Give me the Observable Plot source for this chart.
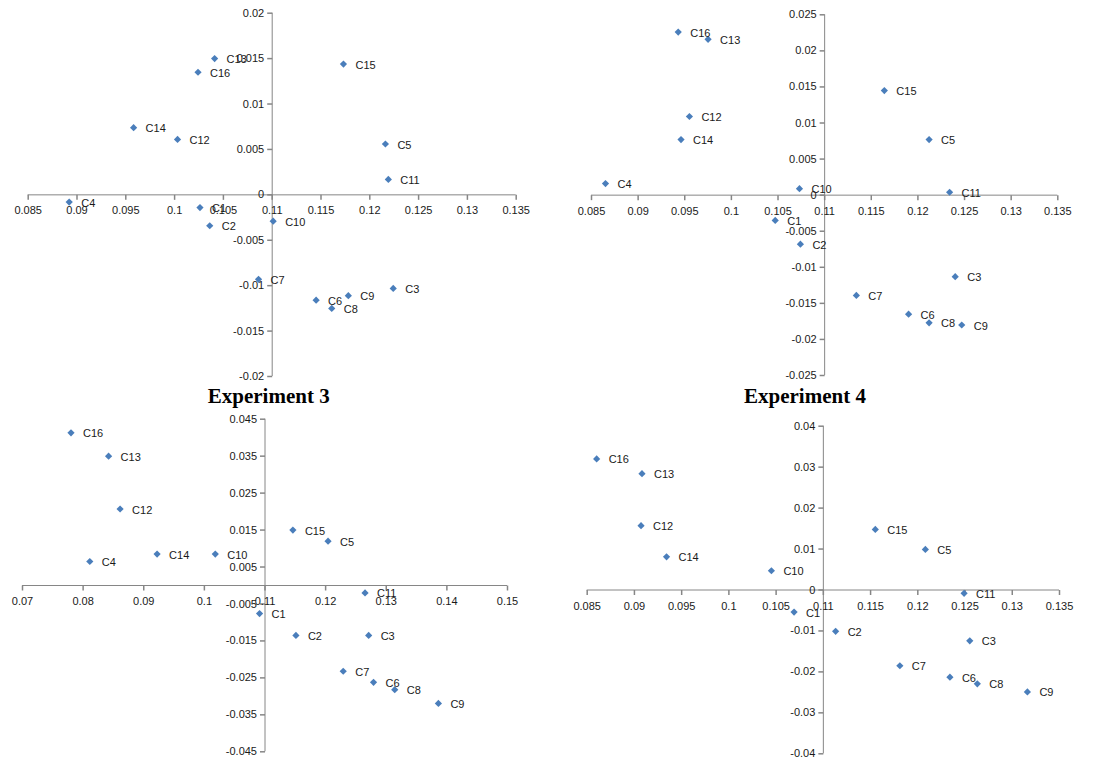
<!DOCTYPE html>
<html><head><meta charset="utf-8">
<script src="https://cdn.jsdelivr.net/npm/d3@7"></script>
<script src="https://cdn.jsdelivr.net/npm/@observablehq/plot@0.6"></script>
<style>
body{margin:0;background:#fff;}
#wrap{position:relative;width:1110px;height:762px;overflow:hidden;background:#fff;}
.panel{position:absolute;width:555px;}
.panel svg{position:absolute;left:0;}
.title{position:absolute;top:0;height:30px;line-height:30px;transform:translateX(-50%);white-space:nowrap;
  font-family:"Liberation Serif","Times New Roman",serif;font-weight:bold;font-size:21px;color:#000;}
</style>
</head><body>
<div id="wrap"></div>
<script>
// ---- data ----
const labels = ["C1","C2","C3","C4","C5","C6","C7","C8","C9","C10","C11","C12","C13","C14","C15","C16"];

const exp1X = [0.1026,0.1036,0.1224,0.0892,0.1216,0.1145,0.1086,0.1161,0.1178,0.1101,0.1219,0.1003,0.1041,0.0958,0.1173,0.1024];
const exp1Y = [-0.0014,-0.0034,-0.0103,-0.0008,0.0056,-0.0116,-0.0093,-0.0125,-0.0111,-0.0029,0.0017,0.0061,0.0150,0.0074,0.0144,0.0135];

const exp2X = [0.1047,0.1074,0.1240,0.0865,0.1212,0.1190,0.1134,0.1212,0.1247,0.1073,0.1234,0.0955,0.0975,0.0946,0.1164,0.0943];
const exp2Y = [-0.0035,-0.0068,-0.0113,0.0016,0.0077,-0.0165,-0.0139,-0.0177,-0.0180,0.0009,0.0004,0.0109,0.0216,0.0077,0.0145,0.0226];

const exp3X = [0.1091,0.1151,0.1271,0.0811,0.1204,0.1279,0.1229,0.1314,0.1386,0.1018,0.1265,0.0861,0.0842,0.0922,0.1146,0.0780];
const exp3Y = [-0.0076,-0.0135,-0.0135,0.0065,0.0120,-0.0262,-0.0232,-0.0282,-0.0319,0.0085,-0.0020,0.0207,0.0350,0.0085,0.0150,0.0413];

// C4 is not visible in Experiment 4
const exp4X = [0.1069,0.1113,0.1255,null,0.1208,0.1234,0.1181,0.1263,0.1316,0.1045,0.1249,0.0907,0.0908,0.0934,0.1155,0.0860];
const exp4Y = [-0.0054,-0.0101,-0.0124,null,0.0099,-0.0213,-0.0185,-0.0229,-0.0249,0.0047,-0.0008,0.0157,0.0284,0.0081,0.0148,0.0320];

const xTicksA = ["0.085","0.09","0.095","0.1","0.105","0.11","0.115","0.12","0.125","0.13","0.135"];
const xTicks3 = ["0.07","0.08","0.09","0.1","0.11","0.12","0.13","0.14","0.15"];
const yTicks1 = ["-0.02","-0.015","-0.01","-0.005","0","0.005","0.01","0.015","0.02"];
const yTicks2 = ["-0.025","-0.02","-0.015","-0.01","-0.005","0","0.005","0.01","0.015","0.02","0.025"];
const yTicks3 = ["-0.045","-0.035","-0.025","-0.015","-0.005","0.005","0.015","0.025","0.035","0.045"];
const yTicks4 = ["-0.04","-0.03","-0.02","-0.01","0","0.01","0.02","0.03","0.04"];

const titles = ["", "", "Experiment 3", "Experiment 4"];
const yAxisCross = 0.11;

// ---- drawing ----
const axisColor = "#868686";
const markerColor = "#4A7EBB";
const textColor = "#1a1a1a";

const tickDown = {draw(ctx){ ctx.moveTo(0,0); ctx.lineTo(0,5); }};
const tickLeft = {draw(ctx){ ctx.moveTo(0,0); ctx.lineTo(-5,0); }};
const diamond = {draw(ctx, size){ const h = Math.sqrt(size/Math.PI);
  ctx.moveTo(0,-h); ctx.lineTo(h,0); ctx.lineTo(0,h); ctx.lineTo(-h,0); ctx.closePath(); }};

function panel(o){
  const data = labels.map((c,i)=>({c, x:o.xs[i], y:o.ys[i]})).filter(d=>d.x!=null && d.y!=null);
  const xt = o.xTicks.map(s=>({v:+s, s}));
  const yt = o.yTicks.map(s=>({v:+s, s}));
  const xDom = [xt[0].v, xt[xt.length-1].v];
  const yDom = [yt[0].v, yt[yt.length-1].v];
  return Plot.plot({
    width: 555, height: o.height,
    marginLeft: o.ml, marginRight: o.mr, marginTop: o.mt, marginBottom: o.mb,
    x: {domain: xDom, axis: null},
    y: {domain: yDom, axis: null},
    style: {background: "transparent", overflow: "visible", fontFamily: "'Liberation Sans', Arial, sans-serif", fontSize: "11px"},
    marks: [
      Plot.ruleY([0], {stroke: axisColor, strokeWidth: 1}),
      Plot.ruleX([yAxisCross], {stroke: axisColor, strokeWidth: 1}),
      Plot.dot(xt, {x: "v", y: () => 0, symbol: tickDown, r: 3, stroke: axisColor, fill: "none"}),
      Plot.dot(yt, {x: () => yAxisCross, y: "v", symbol: tickLeft, r: 3, stroke: axisColor, fill: "none"}),
      Plot.text(xt, {x: "v", y: () => 0, text: "s", dy: 16, fill: textColor}),
      Plot.text(yt, {x: () => yAxisCross, y: "v", text: "s", dx: -8, textAnchor: "end", fill: textColor}),
      Plot.dot(data, {x: "x", y: "y", symbol: diamond, r: 3.6, fill: markerColor, stroke: "none"}),
      Plot.text(data, {x: "x", y: "y", text: "c", dx: 12, dy: 1, textAnchor: "start", fill: textColor})
    ]
  });
}

const wrap = document.getElementById("wrap");
const specs = [
  {left:0,   top:0,   svgTop:0,  height:381, xs:exp1X, ys:exp1Y, xTicks:xTicksA, yTicks:yTicks1, ml:27.7, mr:39.3, mt:12.7, mb:5},
  {left:555, top:0,   svgTop:0,  height:381, xs:exp2X, ys:exp2Y, xTicks:xTicksA, yTicks:yTicks2, ml:36,   mr:52.7, mt:14.3, mb:6},
  {left:0,   top:381, svgTop:30, height:351, xs:exp3X, ys:exp3Y, xTicks:xTicks3, yTicks:yTicks3, ml:22,   mr:48,   mt:7.7,  mb:10.7, titleX:268.7},
  {left:555, top:381, svgTop:30, height:351, xs:exp4X, ys:exp4Y, xTicks:xTicksA, yTicks:yTicks4, ml:31.7, mr:51,   mt:14.7, mb:8.7,  titleX:250}
];
specs.forEach((s,i)=>{
  const div = document.createElement("div");
  div.className = "panel";
  div.style.left = s.left + "px";
  div.style.top = s.top + "px";
  div.style.height = (s.svgTop + s.height) + "px";
  if (titles[i]) {
    const t = document.createElement("div");
    t.className = "title";
    t.style.left = s.titleX + "px";
    t.textContent = titles[i];
    div.appendChild(t);
  }
  const svg = panel(s);
  svg.style.top = s.svgTop + "px";
  div.appendChild(svg);
  wrap.appendChild(div);
});
</script>
</body></html>
